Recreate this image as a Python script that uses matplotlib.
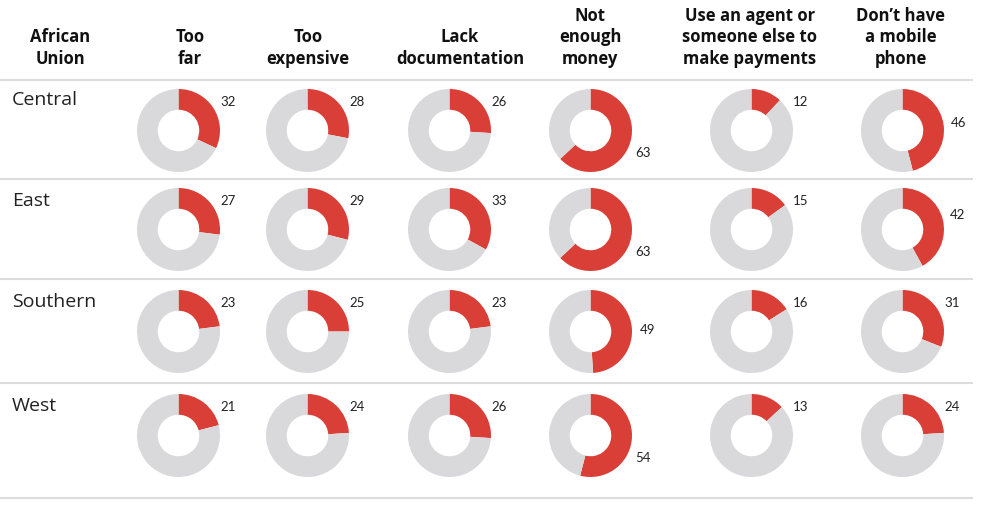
import matplotlib
matplotlib.use("Agg")
import matplotlib.pyplot as plt
import numpy as np

plt.rcParams['font.family'] = ['Open Sans', 'DejaVu Sans']

regions = ["Central", "East", "Southern", "West"]
corner_header = ["African", "Union"]
headers = [
    ["Too", "far"],
    ["Too", "expensive"],
    ["Lack", "documentation"],
    ["Not", "enough", "money"],
    ["Use an agent or", "someone else to", "make payments"],
    ["Don\u2019t have", "a mobile", "phone"],
]
values = {
    "Central":  [32, 28, 26, 63, 12, 46],
    "East":     [27, 29, 33, 63, 15, 42],
    "Southern": [23, 25, 23, 49, 16, 31],
    "West":     [21, 24, 26, 54, 13, 24],
}

RED = "#d93f36"
GRAY = "#d9d9db"
LINE = "#dcdcdc"

W, H = 987, 505
fig = plt.figure(figsize=(W / 100, H / 100), dpi=100)
bg = fig.add_axes([0, 0, 1, 1])
bg.set_xlim(0, W)
bg.set_ylim(H, 0)
bg.axis("off")

col_x = [178.5, 307.5, 449.5, 590.5, 751.5, 902.5]
row_y = [130.5, 229.5, 331.5, 435.5]
label_y = [100, 201, 302, 406]
sep_y = [80, 179, 279, 383, 498]
R = 41.5

# separators
for y in sep_y:
    bg.plot([0, 973], [y, y], color=LINE, lw=1.5, solid_capstyle="butt")

# headers
def header(x, lines):
    n = len(lines)
    for i, t in enumerate(lines):
        y = 59 - (n - 1 - i) * 21.5
        bg.text(x, y, t, ha="center", va="center", fontsize=12,
                fontweight="bold", color="#111111")

header(60, corner_header)
header_x = [190, 308, 460, 590, 750, 901]
for x, lines in zip(header_x, headers):
    header(x, lines)

# row labels
for ly, name in zip(label_y, regions):
    bg.text(12, ly, name, ha="left", va="center", fontsize=14,
            color="#222222")

# donuts
for ri, name in enumerate(regions):
    for ci, v in enumerate(values[name]):
        cx, cy = col_x[ci], row_y[ri]
        ax = fig.add_axes([(cx - R) / W, 1 - (cy + R) / H, 2 * R / W, 2 * R / H])
        ax.pie([v, 100 - v], startangle=90, counterclock=False,
               colors=[RED, GRAY], wedgeprops=dict(width=0.5, linewidth=0))
        ax.set_xlim(-1, 1)
        ax.set_ylim(-1, 1)
        ax.set_aspect("equal")
        ax.axis("off")
        mid = v / 2 * 3.6
        if v > 50:
            ang = 113
        else:
            ang = max(mid, 60)
        a = np.deg2rad(ang)
        rr = 1.37
        ax.text(rr * np.sin(a), rr * np.cos(a), str(v), ha="center",
                va="center", fontsize=9.5, color="#222222", clip_on=False,
                family=["Lato", "DejaVu Sans"])

fig.savefig("out.png", dpi=100)
